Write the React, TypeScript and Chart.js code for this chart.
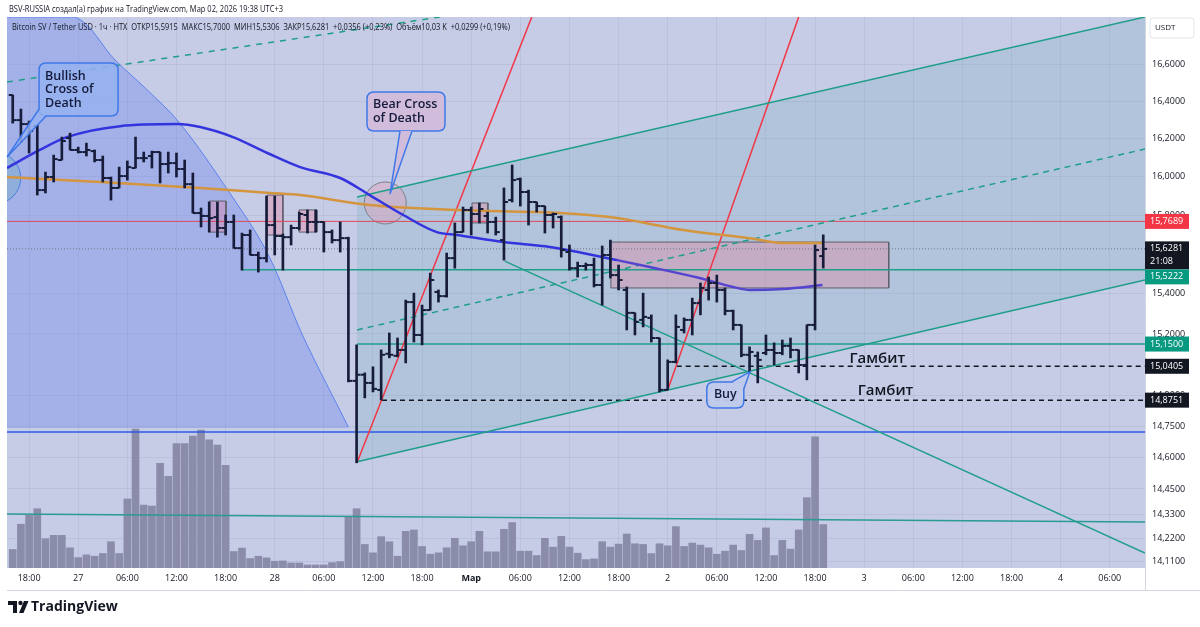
import React, { useEffect, useRef } from 'react';
import { Chart, registerables } from 'chart.js';

Chart.register(...registerables);

const FONT = "'Open Sans', 'DejaVu Sans', sans-serif";
const INK = '#131722';
const BAR_INK = '#161c3a';
const PANE_BG = '#c6cbe6';
const TEAL = '#1f9e89';
const RED = '#f23645';

// ---- OHLC bars, 1h, first bar = 26 Feb 16:00 (hours from 26 Feb 18:00) ----
const firstBarHour = -2;
const opens = [16.433,16.299,16.278,16.267,15.931,15.999,16.088,16.204,16.141,16.130,
16.135,16.088,15.994,15.942,16.004,16.046,16.098,16.109,16.130,16.067,
16.072,16.041,15.962,15.812,15.797,15.791,15.735,15.766,15.632,15.699,
15.597,15.581,15.750,15.694,15.688,15.735,15.802,15.766,15.766,15.714,
15.673,15.683,14.969,14.999,14.959,14.925,15.102,15.092,15.121,15.359,
15.195,15.319,15.410,15.389,15.581,15.714,15.828,15.807,15.797,15.766,
15.673,15.879,15.988,15.921,15.869,15.848,15.802,15.791,15.612,15.530,
15.541,15.546,15.445,15.597,15.495,15.420,15.305,15.270,15.280,15.180,
14.925,15.062,15.220,15.270,15.354,15.420,15.455,15.420,15.315,15.245,
15.097,15.092,15.106,15.121,15.106,15.141,15.121,15.047,15.245,15.5915];
const highs = [16.433,16.358,16.294,16.272,16.025,16.114,16.209,16.230,16.156,16.177,
16.141,16.109,15.999,16.051,16.083,16.209,16.130,16.135,16.130,16.130,
16.125,16.088,16.020,15.838,15.869,15.869,15.802,15.802,15.709,15.725,
15.612,15.900,15.900,15.704,15.750,15.817,15.828,15.828,15.766,15.725,
15.766,15.688,15.146,15.008,15.038,15.121,15.205,15.180,15.369,15.404,
15.344,15.505,15.420,15.607,15.761,15.843,15.843,15.864,15.817,15.791,
15.942,16.062,15.994,15.931,15.869,15.848,15.812,15.797,15.648,15.561,
15.556,15.581,15.643,15.673,15.546,15.435,15.305,15.404,15.295,15.180,
15.072,15.295,15.280,15.379,15.455,15.485,15.495,15.430,15.319,15.245,
15.136,15.111,15.195,15.156,15.170,15.180,15.121,15.245,15.648,15.700];
const lows = [16.283,16.182,16.125,15.905,15.916,15.973,16.088,16.141,16.125,16.109,
16.078,15.973,15.879,15.942,15.983,16.046,16.078,16.046,15.968,16.020,
15.999,15.942,15.812,15.740,15.714,15.688,15.699,15.632,15.520,15.597,
15.510,15.561,15.597,15.520,15.648,15.725,15.709,15.714,15.612,15.658,
15.612,14.964,14.574,14.886,14.915,14.876,15.082,15.087,15.057,15.160,
15.146,15.319,15.359,15.384,15.530,15.714,15.699,15.761,15.709,15.699,
15.571,15.869,15.848,15.750,15.817,15.709,15.735,15.586,15.520,15.485,
15.520,15.435,15.344,15.480,15.420,15.220,15.195,15.235,15.160,14.915,
14.925,15.057,15.205,15.195,15.295,15.369,15.359,15.295,15.220,15.087,
15.013,14.959,15.097,15.047,15.097,15.082,15.008,14.974,15.220,15.5306];
const closes = [16.299,16.278,16.241,15.931,15.999,16.093,16.188,16.141,16.130,16.141,
16.088,15.994,15.942,16.004,16.051,16.098,16.098,16.130,16.067,16.072,
16.041,15.962,15.812,15.797,15.786,15.735,15.766,15.632,15.699,15.597,
15.581,15.750,15.694,15.688,15.735,15.807,15.766,15.766,15.714,15.673,
15.683,14.969,14.999,14.959,14.930,15.097,15.097,15.121,15.359,15.195,
15.319,15.470,15.389,15.581,15.714,15.828,15.807,15.833,15.766,15.714,
15.869,15.983,15.921,15.869,15.848,15.802,15.807,15.622,15.530,15.541,
15.546,15.445,15.597,15.495,15.470,15.305,15.260,15.285,15.180,14.925,
15.062,15.235,15.270,15.354,15.430,15.455,15.420,15.315,15.245,15.097,
15.111,15.072,15.121,15.106,15.141,15.121,15.047,15.245,15.622,15.6281];
const volumes = [55,130,157,176,87,97,97,60,31,39,
35,43,78,43,205,413,187,184,311,272,
370,370,392,410,381,365,305,49,59,28,
35,30,20,21,15,15,9,9,9,16,
19,152,176,70,45,93,78,35,109,113,
64,41,45,60,88,66,78,109,48,48,
115,135,50,50,37,88,62,94,62,44,
25,27,78,62,71,101,72,70,43,72,
66,123,64,74,68,60,41,50,68,52,
100,82,119,37,82,56,113,209,390,129];

// ---- axes ----
const xMin = -2.7;
const xMax = 136.3;
const yMin = 14.082;
const yMax = 16.857;
const volumeAxisMax = 1637;
const timeTickHours = [0,6,12,18,24,30,36,42,48,54,60,66,72,78,84,90,96,102,108,114,120,126,132];
const timeTickLabels = ['18:00','27','06:00','12:00','18:00','28','06:00','12:00','18:00','Мар','06:00','12:00','18:00','2','06:00','12:00','18:00','3','06:00','12:00','18:00','4','06:00'];
const priceTicks = [16.6,16.4,16.2,16.0,15.8,15.4,15.2,14.9,14.75,14.6,14.45,14.33,14.22,14.11];

// ---- moving averages ----
const blueMaHours = [-2.7,1.3,4.6,11.1,18.1,20.9,24.9,29.1,33.1,38.0,41.6,45.7,49.8,52.3,57.9,63.6,67.6,71.8,75.8,81.9,86.0,88.0,92.1,96.9];
const blueMaValues = [16.046,16.141,16.209,16.267,16.278,16.262,16.209,16.125,16.051,15.994,15.905,15.802,15.714,15.699,15.663,15.638,15.607,15.571,15.536,15.480,15.435,15.420,15.425,15.445];
const orangeMaHours = [-2.7,8.7,20.9,29.4,33.1,41.6,52.3,64.8,71.8,79.9,88.0,92.1,96.9];
const orangeMaValues = [15.999,15.973,15.942,15.916,15.905,15.853,15.828,15.812,15.786,15.725,15.683,15.658,15.658];

// ---- drawings ----
const hLinePrices = [15.7689,15.5222,15.15,15.0405,14.8751,14.721,15.6281];
const hLineStartHours = [-2.7,26.0,40.05,79.1,43.1,-2.7,-2.7];
const trendStartHours = [40.05,40.05,40.05,58.1,-2.7,40.05,78.0,-2.7];
const trendStartPrices = [15.895,14.579,15.220,15.566,16.503,14.574,14.925,14.333];
const trendEndHours = [136.3,136.3,136.3,136.3,50.2,61.4,94.0,136.3];
const trendEndPrices = [16.857,15.470,16.146,14.151,16.857,16.857,16.857,14.295];
const arcHours = [-2.7,5.6,10.5,14.2,18.4,24.5,29.1,33.5,39.0];
const arcPrices = [16.857,16.857,16.622,16.470,16.283,15.916,15.607,15.185,14.745];
const arcBasePrice = 14.74;
const rectStartHours = [22.0,29.06,32.97,54.1,71.06];
const rectEndHours = [24.05,31.0,35.16,56.04,105.0];
const rectTopPrices = [15.874,15.905,15.828,15.864,15.663];
const rectBottomPrices = [15.714,15.699,15.714,15.761,15.430];
const circleHours = [-4.2,43.5];
const circlePrices = [15.994,15.864];
const calloutTexts = [['Bullish','Cross of','Death'],['Bear Cross','of Death'],['Buy']];
const calloutAnchorHours = [-2.69,44.08,88.03];
const calloutAnchorPrices = [16.104,15.910,15.013];
const noteTexts = ['Гамбит','Гамбит'];
const noteHours = [100.2,101.2];
const notePrices = [15.077,14.920];
const badgePrices = [15.7689,15.6281,15.5222,15.15,15.0405,14.8751];

// styles (not data)
const hLineStyles = [
  { c: '#e2475b', w: 1, d: [] },
  { c: TEAL, w: 1.5, d: [] },
  { c: TEAL, w: 1.5, d: [] },
  { c: INK, w: 1.5, d: [5, 4] },
  { c: INK, w: 1.5, d: [5, 4] },
  { c: '#2d5be6', w: 1.5, d: [] },
  { c: '#6f7382', w: 1, d: [1, 2] },
];
const trendStyles = [
  { c: TEAL, w: 1.5, d: [] },
  { c: TEAL, w: 1.5, d: [] },
  { c: TEAL, w: 1.5, d: [6, 5] },
  { c: TEAL, w: 1.5, d: [] },
  { c: TEAL, w: 1.5, d: [6, 6] },
  { c: RED, w: 1.5, d: [] },
  { c: RED, w: 1.5, d: [] },
  { c: '#2a9a95', w: 1.5, d: [] },
];
const circleStyles = [
  { r: 26, bg: 'rgba(120,170,200,0.45)', bc: '#4a7fe0' },
  { r: 21, bg: 'rgba(225,165,190,0.45)', bc: '#7d808c' },
];
const calloutGeom = [
  { dx: 32, dy: -94, w: 79, h: 53, t1: [0, 46], t2: [7, 53], bg: 'rgba(150,178,240,0.85)', align: 'left' },
  { dx: -23, dy: -102, w: 78, h: 39, t1: [33, 39], t2: [45, 39], bg: 'rgba(210,188,218,0.95)', align: 'left' },
  { dx: -43, dy: 10, w: 37, h: 26, t1: [25, 0], t2: [37, 7], bg: 'rgba(192,202,236,0.95)', align: 'center' },
];
const badgeStyles = [
  { bg: RED, sub: '' },
  { bg: INK, sub: '21:08' },
  { bg: '#089981', sub: '' },
  { bg: '#089981', sub: '' },
  { bg: INK, sub: '' },
  { bg: INK, sub: '' },
];

const fmt = (v: number) => v.toFixed(4).replace('.', ',');

function roundRect(ctx: any, x: number, y: number, w: number, h: number, r: number) {
  ctx.beginPath();
  ctx.moveTo(x + r, y);
  ctx.lineTo(x + w - r, y);
  ctx.quadraticCurveTo(x + w, y, x + w, y + r);
  ctx.lineTo(x + w, y + h - r);
  ctx.quadraticCurveTo(x + w, y + h, x + w - r, y + h);
  ctx.lineTo(x + r, y + h);
  ctx.quadraticCurveTo(x, y + h, x, y + h - r);
  ctx.lineTo(x, y + r);
  ctx.quadraticCurveTo(x, y, x + r, y);
  ctx.closePath();
}

const bgPlugin = {
  id: 'bgPlugin',
  beforeDraw(chart: any) {
    const { ctx, chartArea: a } = chart;
    ctx.save();
    ctx.fillStyle = '#ffffff';
    ctx.fillRect(0, 0, chart.width, chart.height);
    ctx.fillStyle = PANE_BG;
    ctx.fillRect(a.left, a.top, a.right - a.left, a.bottom - a.top);
    ctx.restore();
  },
};

const overlayPlugin = {
  id: 'overlayPlugin',
  afterDraw(chart: any) {
    const { ctx, chartArea: a, scales } = chart;
    const xs = scales.x;
    const ys = scales.y;
    ctx.save();

    // callouts
    calloutTexts.forEach((lines, i) => {
      const g = calloutGeom[i];
      const ax = xs.getPixelForValue(calloutAnchorHours[i]);
      const ay = ys.getPixelForValue(calloutAnchorPrices[i]);
      const bx = ax + g.dx;
      const by = ay + g.dy;
      ctx.fillStyle = g.bg;
      ctx.strokeStyle = '#3f78e8';
      ctx.lineWidth = 1.5;
      roundRect(ctx, bx, by, g.w, g.h, 7);
      ctx.fill();
      ctx.stroke();
      ctx.beginPath();
      ctx.moveTo(bx + g.t1[0], by + g.t1[1]);
      ctx.lineTo(ax, ay);
      ctx.lineTo(bx + g.t2[0], by + g.t2[1]);
      ctx.closePath();
      ctx.fill();
      ctx.beginPath();
      ctx.moveTo(bx + g.t1[0], by + g.t1[1]);
      ctx.lineTo(ax, ay);
      ctx.lineTo(bx + g.t2[0], by + g.t2[1]);
      ctx.stroke();
      ctx.fillStyle = '#141a3a';
      ctx.font = `600 12.5px ${FONT}`;
      ctx.textBaseline = 'middle';
      const lh = 13.5;
      const startY = by + g.h / 2 - ((lines.length - 1) * lh) / 2;
      lines.forEach((t, k) => {
        if (g.align === 'center') {
          ctx.textAlign = 'center';
          ctx.fillText(t, bx + g.w / 2, startY + k * lh);
        } else {
          ctx.textAlign = 'left';
          ctx.fillText(t, bx + 6, startY + k * lh);
        }
      });
    });

    // notes
    ctx.fillStyle = INK;
    ctx.font = `600 15px ${FONT}`;
    ctx.textAlign = 'left';
    ctx.textBaseline = 'middle';
    noteTexts.forEach((t, i) => {
      ctx.fillText(t, xs.getPixelForValue(noteHours[i]), ys.getPixelForValue(notePrices[i]));
    });

    // borders
    ctx.strokeStyle = '#d4d7e0';
    ctx.lineWidth = 1;
    ctx.beginPath();
    ctx.moveTo(a.right + 0.5, a.top);
    ctx.lineTo(a.right + 0.5, a.bottom + 22);
    ctx.moveTo(a.left, a.bottom + 22.5);
    ctx.lineTo(chart.width, a.bottom + 22.5);
    ctx.stroke();

    // price badges
    let lastBottom = -Infinity;
    badgePrices.forEach((p, i) => {
      const st = badgeStyles[i];
      const y = ys.getPixelForValue(p);
      const h = st.sub ? 28 : 15;
      let top = y - 7.5;
      if (top < lastBottom) top = lastBottom;
      ctx.fillStyle = st.bg;
      ctx.fillRect(a.right, top, 44, h);
      ctx.fillStyle = '#ffffff';
      ctx.font = `9px ${FONT}`;
      ctx.textAlign = 'left';
      ctx.textBaseline = 'middle';
      ctx.fillText(fmt(p), a.right + 5, top + 7.5);
      if (st.sub) ctx.fillText(st.sub, a.right + 5, top + 20.5);
      lastBottom = top + h;
    });

    // USDT box
    ctx.fillStyle = '#ffffff';
    ctx.strokeStyle = '#e3e5eb';
    roundRect(ctx, a.right + 5, a.top + 1, 44, 20, 3);
    ctx.fill();
    ctx.stroke();
    ctx.fillStyle = INK;
    ctx.font = `8px ${FONT}`;
    ctx.fillText('USDT', a.right + 10, a.top + 11);

    // header lines
    ctx.fillStyle = INK;
    ctx.textAlign = 'left';
    ctx.textBaseline = 'middle';
    const drawFit = (text: string, x: number, y: number, w: number, font: string) => {
      ctx.font = font;
      const m = ctx.measureText(text).width;
      ctx.save();
      ctx.translate(x, y);
      ctx.scale(w / m, 1);
      ctx.fillText(text, 0, 0);
      ctx.restore();
    };
    drawFit('BSV-RUSSIA создал(а) график на TradingView.com, Мар 02, 2026 19:38 UTC+3', 9, 9, 274, `9px ${FONT}`);
    drawFit('Bitcoin SV / Tether USD · 1ч · HTX  ОТКР15,5915  МАКС15,7000  МИН15,5306  ЗАКР15,6281  +0,0356 (+0,23%)  Объём10,03 K  +0,0299 (+0,19%)', 12, 27, 498, `9px ${FONT}`);

    // TradingView logo
    ctx.fillStyle = INK;
    ctx.beginPath();
    ctx.moveTo(8, 601); ctx.lineTo(17, 601); ctx.lineTo(17, 613); ctx.lineTo(13, 613); ctx.lineTo(13, 605); ctx.lineTo(8, 605); ctx.closePath();
    ctx.fill();
    ctx.beginPath();
    ctx.arc(20.5, 603, 2.2, 0, Math.PI * 2);
    ctx.fill();
    ctx.beginPath();
    ctx.moveTo(24, 601); ctx.lineTo(28.5, 601); ctx.lineTo(23.5, 613); ctx.lineTo(19, 613); ctx.closePath();
    ctx.fill();
    ctx.font = `bold 14px ${FONT}`;
    ctx.textBaseline = 'middle';
    ctx.fillText('TradingView', 31, 607);

    ctx.restore();
  },
};

export default function App() {
  const ref = useRef<HTMLCanvasElement | null>(null);

  useEffect(() => {
    const canvas = ref.current;
    if (!canvas) return;
    Chart.defaults.font.family = FONT;

    const barHours = opens.map((_, i) => firstBarHour + i);
    const wickData = barHours.map((h, i) => ({ x: h, y: [lows[i], highs[i]] }));
    const openData = barHours.map((h, i) => ({ x: h, y: opens[i] }));
    const closeData = barHours.map((h, i) => ({ x: h, y: closes[i] }));
    const volData = barHours.map((h, i) => ({ x: h, y: volumes[i] }));

    const line = (data: any[], c: string, w: number, d: number[], extra: any = {}) => ({
      type: 'line',
      data,
      borderColor: c,
      borderWidth: w,
      borderDash: d,
      pointRadius: 0,
      pointHoverRadius: 0,
      fill: false,
      tension: 0,
      clip: 0,
      yAxisID: 'y',
      ...extra,
    });

    const datasets: any[] = [];
    // top-most first
    datasets.push({ type: 'bar', data: wickData, backgroundColor: BAR_INK, barThickness: 2, grouped: false, borderWidth: 0, yAxisID: 'y', clip: 0 });
    datasets.push({ type: 'scatter', data: openData, pointStyle: 'dash', pointRotation: 180, pointRadius: 4, pointHoverRadius: 4, pointBorderWidth: 2, pointBorderColor: BAR_INK, pointBackgroundColor: BAR_INK, yAxisID: 'y', clip: 0 });
    datasets.push({ type: 'scatter', data: closeData, pointStyle: 'dash', pointRotation: 0, pointRadius: 4, pointHoverRadius: 4, pointBorderWidth: 2, pointBorderColor: BAR_INK, pointBackgroundColor: BAR_INK, yAxisID: 'y', clip: 0 });

    datasets.push(line(blueMaHours.map((h, i) => ({ x: h, y: blueMaValues[i] })), '#3434df', 2.5, [], {
      cubicInterpolationMode: 'monotone',
      segment: { borderColor: (c: any) => (c.p0.parsed.x > 68 ? '#5544cf' : '#3434df') },
    }));
    datasets.push(line(orangeMaHours.map((h, i) => ({ x: h, y: orangeMaValues[i] })), '#d4953f', 2.5, [], { cubicInterpolationMode: 'monotone' }));

    trendStartHours.forEach((h, i) => {
      const s = trendStyles[i];
      datasets.push(line([{ x: h, y: trendStartPrices[i] }, { x: trendEndHours[i], y: trendEndPrices[i] }], s.c, s.w, s.d));
    });
    hLinePrices.forEach((p, i) => {
      const s = hLineStyles[i];
      datasets.push(line([{ x: hLineStartHours[i], y: p }, { x: xMax, y: p }], s.c, s.w, s.d));
    });

    datasets.push({
      type: 'bubble',
      data: circleHours.map((h, i) => ({ x: h, y: circlePrices[i], r: circleStyles[i].r })),
      backgroundColor: circleStyles.map((s) => s.bg),
      borderColor: circleStyles.map((s) => s.bc),
      borderWidth: 1,
      hoverRadius: 0,
      yAxisID: 'y',
      clip: 0,
    });

    rectStartHours.forEach((h, i) => {
      const x2 = rectEndHours[i];
      const t = rectTopPrices[i];
      const b = rectBottomPrices[i];
      datasets.push(line([{ x: h, y: t }, { x: x2, y: t }, { x: x2, y: b }, { x: h, y: b }, { x: h, y: t }], '#5e606b', 1, [], {
        fill: 'shape',
        backgroundColor: 'rgba(236,120,150,0.32)',
      }));
    });

    // channel fill
    datasets.push(line([
      { x: trendStartHours[0], y: trendStartPrices[0] },
      { x: trendEndHours[0], y: trendEndPrices[0] },
      { x: trendEndHours[1], y: trendEndPrices[1] },
      { x: trendStartHours[1], y: trendStartPrices[1] },
      { x: trendStartHours[0], y: trendStartPrices[0] },
    ], 'rgba(0,0,0,0)', 0, [], { fill: 'shape', backgroundColor: 'rgba(20,150,140,0.11)' }));

    // arc region
    datasets.push(line(arcHours.map((h, i) => ({ x: h, y: arcPrices[i] })), '#5b82ee', 1, [], {
      tension: 0.35,
      fill: { value: arcBasePrice },
      backgroundColor: 'rgba(95,125,240,0.33)',
    }));

    datasets.push({ type: 'bar', data: volData, backgroundColor: '#8a8ca9', barThickness: 7, grouped: false, borderWidth: 0, yAxisID: 'y2', clip: 0 });

    const chart = new Chart(canvas, {
      type: 'bar',
      data: { datasets },
      options: {
        animation: false,
        responsive: false,
        devicePixelRatio: 1,
        events: [],
        layout: { autoPadding: false, padding: { left: 7, top: 17, right: 0, bottom: 37 } },
        plugins: { legend: { display: false }, tooltip: { enabled: false } },
        scales: {
          x: {
            type: 'linear',
            min: xMin,
            max: xMax,
            offset: false,
            afterFit: (s: any) => { s.height = 22; s.paddingLeft = 0; s.paddingRight = 0; },
            afterBuildTicks: (s: any) => { s.ticks = timeTickHours.map((v) => ({ value: v })); },
            grid: { color: 'rgba(60,64,90,0.07)', drawTicks: false, offset: false },
            border: { display: false },
            ticks: {
              autoSkip: false,
              maxRotation: 0,
              padding: 5,
              color: INK,
              font: (c: any) => ({ size: 9, family: FONT, weight: c.tick && c.tick.label === 'Мар' ? 'bold' : 'normal' }),
              callback: (_v: any, i: number) => timeTickLabels[i],
            },
          },
          y: {
            type: 'logarithmic',
            position: 'right',
            min: yMin,
            max: yMax,
            afterFit: (s: any) => { s.width = 55; s.paddingTop = 0; s.paddingBottom = 0; },
            afterBuildTicks: (s: any) => { s.ticks = priceTicks.map((v) => ({ value: v })); },
            grid: { color: 'rgba(60,64,90,0.07)', drawTicks: false },
            border: { display: false },
            ticks: {
              autoSkip: false,
              padding: 7,
              color: INK,
              font: { size: 9, family: FONT },
              callback: (v: any) => fmt(Number(v)),
            },
          },
          y2: {
            type: 'linear',
            display: false,
            min: 0,
            max: volumeAxisMax,
          },
        },
      } as any,
      plugins: [bgPlugin, overlayPlugin],
    });
    return () => chart.destroy();
  }, []);

  return (
    <div style={{ position: 'fixed', left: 0, top: 0, width: 1200, height: 627, background: '#fff' }}>
      <canvas ref={ref} width={1200} height={627} style={{ display: 'block', width: 1200, height: 627 }} />
    </div>
  );
}
